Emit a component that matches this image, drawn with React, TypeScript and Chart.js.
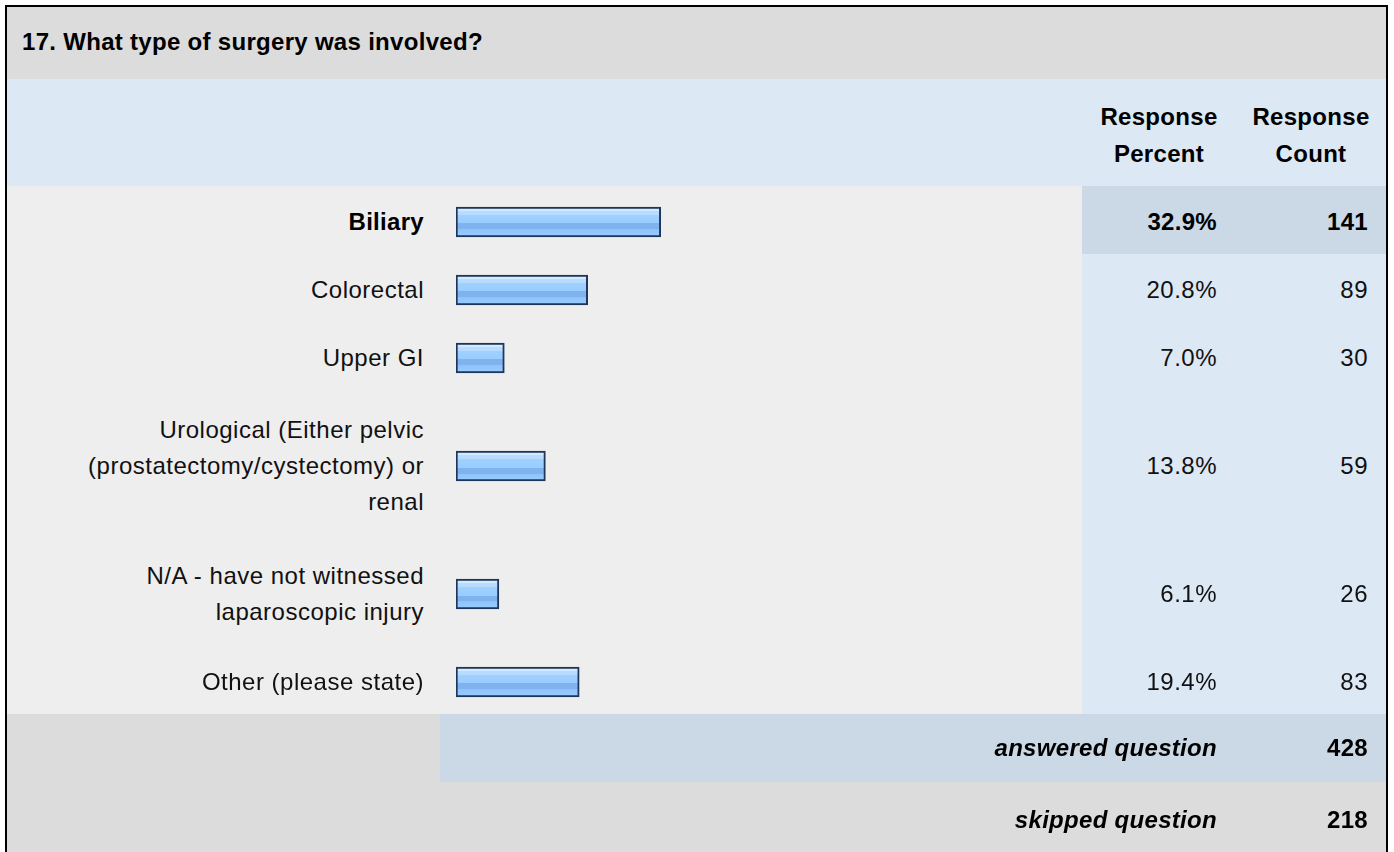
import React, { useEffect, useRef } from "react";
import { Chart, registerables } from "chart.js";

Chart.register(...registerables);

const title = "17. What type of surgery was involved?";
const headerPercent = ["Response", "Percent"];
const headerCount = ["Response", "Count"];
const categories = [
  "Biliary",
  "Colorectal",
  "Upper GI",
  "Urological (Either pelvic (prostatectomy/cystectomy) or renal",
  "N/A - have not witnessed laparoscopic injury",
  "Other (please state)",
];
const percents = [32.9, 20.8, 7.0, 13.8, 6.1, 19.4];
const counts = [141, 89, 30, 59, 26, 83];
const highlighted = [true, false, false, false, false, false];
const answeredLabel = "answered question";
const answeredCount = 428;
const skippedLabel = "skipped question";
const skippedCount = 218;

const ROW_H = [68, 68, 68, 148, 108, 68];
const W_LABEL = 433;
const W_BAR = 642;
const W_PCT = 154;
const W_CNT = 150;

const GRAY = "#dcdcdc";
const LIGHT = "#dde8f5";
const BODY = "#eeeeee";
const HILITE = "#cbd8e6";
const FONT = '"Liberation Sans", Arial, Helvetica, sans-serif';

function BarCell({ label, value, height }: { label: string; value: number; height: number }) {
  const ref = useRef<HTMLCanvasElement | null>(null);
  useEffect(() => {
    if (!ref.current) return;
    const chart = new Chart(ref.current, {
      type: "bar",
      data: {
        labels: [label],
        datasets: [
          {
            data: [value],
            base: -1,
            backgroundColor: (ctx: any) => {
              const c = ctx.chart;
              const area = c.chartArea;
              if (!area) return "#99ccff";
              const mid = (area.top + area.bottom) / 2;
              const g = c.ctx.createLinearGradient(0, mid - 15, 0, mid + 15);
              g.addColorStop(0, "#d2eaff");
              g.addColorStop(0.14, "#d2eaff");
              g.addColorStop(0.14, "#b8dcff");
              g.addColorStop(0.28, "#b8dcff");
              g.addColorStop(0.28, "#9fd0ff");
              g.addColorStop(0.55, "#99ccff");
              g.addColorStop(0.55, "#7eb3ee");
              g.addColorStop(0.75, "#7eb3ee");
              g.addColorStop(0.75, "#8fc3fa");
              g.addColorStop(1, "#9accff");
              return g;
            },
            borderColor: "#1d3659",
            borderWidth: 2,
            borderSkipped: false,
            barThickness: 30,
          } as any,
        ],
      },
      options: {
        indexAxis: "y",
        responsive: false,
        animation: false,
        layout: { padding: { left: 16, right: 16, top: 4, bottom: 0 } },
        scales: {
          x: { display: false, min: -1, max: 100 },
          y: { display: false },
        },
        plugins: { legend: { display: false }, tooltip: { enabled: false } },
      },
    });
    return () => chart.destroy();
  }, [label, value, height]);
  return (
    <div style={{ width: W_BAR, height, background: BODY }}>
      <canvas ref={ref} width={W_BAR} height={height} style={{ display: "block" }} />
    </div>
  );
}

const cellBase: React.CSSProperties = {
  boxSizing: "border-box",
  display: "flex",
  alignItems: "center",
  justifyContent: "flex-end",
  flex: "none",
};

export default function App() {
  useEffect(() => {
    document.body.style.margin = "0";
  }, []);
  const regular: React.CSSProperties = {
    fontFamily: FONT,
    fontSize: 24,
    letterSpacing: 0.5,
    color: "#111",
    lineHeight: "36px",
  };
  const bold: React.CSSProperties = {
    fontFamily: FONT,
    fontSize: 24,
    letterSpacing: 0.3,
    fontWeight: "bold",
    color: "#000",
    lineHeight: "36px",
  };
  return (
    <div
      style={{
        position: "absolute",
        left: 5,
        top: 5,
        width: W_LABEL + W_BAR + W_PCT + W_CNT + 4,
        border: "2px solid #000",
        boxSizing: "border-box",
        background: BODY,
      }}
    >
      {/* title */}
      <div style={{ ...cellBase, height: 72, background: GRAY, justifyContent: "flex-start", paddingLeft: 15, paddingBottom: 2 }}>
        <span style={bold}>{title}</span>
      </div>
      {/* header */}
      <div style={{ display: "flex", height: 107, background: LIGHT }}>
        <div style={{ ...cellBase, width: W_LABEL + W_BAR }} />
        <div style={{ ...cellBase, width: W_PCT, justifyContent: "center", paddingTop: 4 }}>
          <span style={{ ...bold, lineHeight: "37px", textAlign: "center" }}>
            {headerPercent[0]}
            <br />
            {headerPercent[1]}
          </span>
        </div>
        <div style={{ ...cellBase, width: W_CNT, justifyContent: "center", paddingTop: 4 }}>
          <span style={{ ...bold, lineHeight: "37px", textAlign: "center" }}>
            {headerCount[0]}
            <br />
            {headerCount[1]}
          </span>
        </div>
      </div>
      {categories.map((cat, i) => {
        const h = ROW_H[i];
        const hi = highlighted[i];
        const txt = hi ? bold : regular;
        return (
          <div key={cat} style={{ display: "flex", height: h }}>
            <div style={{ ...cellBase, width: W_LABEL, height: h, paddingLeft: 56, paddingRight: 16, paddingTop: 4, background: BODY }}>
              <span style={{ ...txt, textAlign: "right" }}>{cat}</span>
            </div>
            <BarCell label={cat} value={percents[i]} height={h} />
            <div style={{ ...cellBase, width: W_PCT, height: h, paddingRight: 19, paddingTop: 4, background: hi ? HILITE : LIGHT }}>
              <span style={txt}>{percents[i].toFixed(1)}%</span>
            </div>
            <div style={{ ...cellBase, width: W_CNT, height: h, paddingRight: 18, paddingTop: 4, background: hi ? HILITE : LIGHT }}>
              <span style={txt}>{counts[i]}</span>
            </div>
          </div>
        );
      })}
      {/* answered */}
      <div style={{ display: "flex", height: 68 }}>
        <div style={{ ...cellBase, width: W_LABEL, background: GRAY }} />
        <div style={{ ...cellBase, width: W_BAR + W_PCT, paddingRight: 19, background: HILITE }}>
          <span style={{ ...bold, fontStyle: "italic" }}>{answeredLabel}</span>
        </div>
        <div style={{ ...cellBase, width: W_CNT, paddingRight: 18, background: HILITE }}>
          <span style={bold}>{answeredCount}</span>
        </div>
      </div>
      {/* skipped */}
      <div style={{ display: "flex", height: 76, background: GRAY }}>
        <div style={{ ...cellBase, width: W_LABEL + W_BAR + W_PCT, paddingRight: 19 }}>
          <span style={{ ...bold, fontStyle: "italic" }}>{skippedLabel}</span>
        </div>
        <div style={{ ...cellBase, width: W_CNT, paddingRight: 18 }}>
          <span style={bold}>{skippedCount}</span>
        </div>
      </div>
    </div>
  );
}
